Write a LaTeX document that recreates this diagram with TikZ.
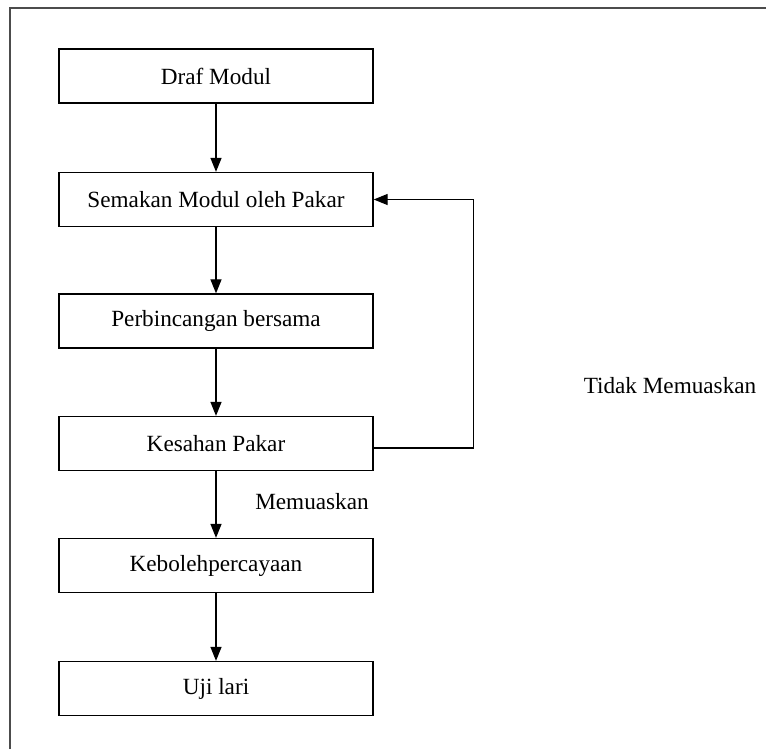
\documentclass[tikz,border=0pt]{standalone}
\usepackage{fontspec}
\setmainfont{Liberation Serif}
\usetikzlibrary{arrows.meta}
\begin{document}
\begin{tikzpicture}[x=0.025cm,y=-0.025cm,font=\fontsize{16.5}{20}\selectfont,
  box/.style={draw, line width=0.9pt, minimum width=7.85cm, minimum height=1.35cm, inner sep=0pt},
  link/.style={draw, line width=0.9pt, -{Triangle[length=0.35cm,width=0.275cm]}}]
\useasboundingbox (0,0) rectangle (766,749);
\draw[line width=1.4pt, black!70] (10,749) -- (10,8) -- (766,8);

\node[box] (1) at (216,76) {Draf Modul};
\node[box] (2) at (216,199.5) {Semakan Modul oleh Pakar};
\node[box] (3) at (216,321) {Perbincangan bersama};
\node[box] (4) at (216,443.5) {Kesahan Pakar};
\node[box] (5) at (216,565.5) {Kebolehpercayaan};
\node[box] (6) at (216,688.5) {Uji lari};

\node (m) at (312,502) {Memuaskan};
\node (t) at (670,386) {Tidak Memuaskan};

\path[link] (1) -- (2);
\path[link] (2) -- (3);
\path[link] (3) -- (4);
\path[link] (4) -- (5);
\path[link] (5) -- (6);
\path[link] ([yshift=-0.11cm]4.east) -- ++(100,0) |- (2.east);
\end{tikzpicture}
\end{document}
